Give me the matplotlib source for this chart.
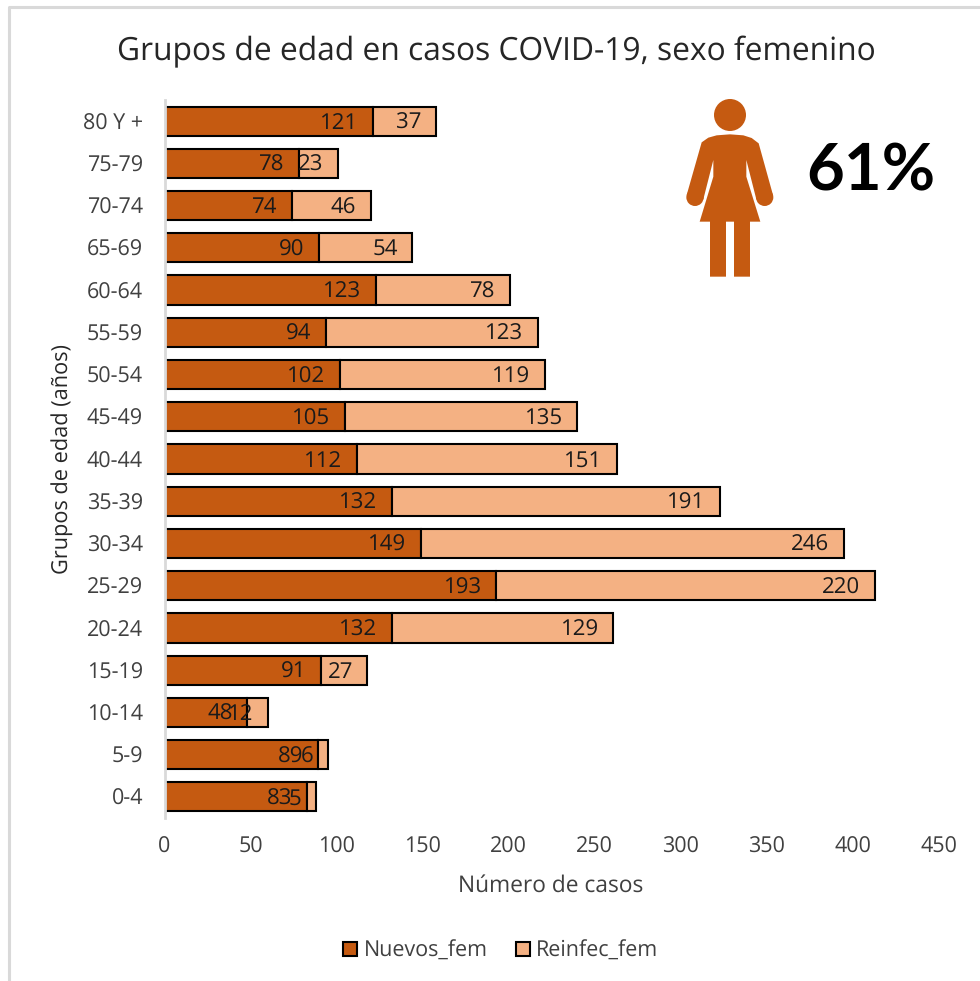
import matplotlib
matplotlib.use("Agg")
import matplotlib.pyplot as plt
from matplotlib.patches import Circle, Polygon

plt.rcParams['font.family'] = ['Open Sans', 'DejaVu Sans']
plt.rcParams['text.hinting'] = 'no_hinting'

groups = ["0-4", "5-9", "10-14", "15-19", "20-24", "25-29", "30-34", "35-39", "40-44",
          "45-49", "50-54", "55-59", "60-64", "65-69", "70-74", "75-79", "80 Y +"]
nuevos = [83, 89, 48, 91, 132, 193, 149, 132, 112, 105, 102, 94, 123, 90, 74, 78, 121]
reinfec = [5, 6, 12, 27, 129, 220, 246, 191, 151, 135, 119, 123, 78, 54, 46, 23, 37]
x_ticks = [0, 50, 100, 150, 200, 250, 300, 350, 400, 450]

DARK = "#C55A11"
LIGHT = "#F4B183"
W, H = 980, 981

fig = plt.figure(figsize=(W / 100, H / 100), dpi=100)
ax = fig.add_axes([164.5 / W, 1 - 818 / H, 774 / W, 718 / H])

ax.barh(groups, nuevos, height=0.69, color=DARK, edgecolor="black", linewidth=1.5, label="Nuevos_fem")
ax.barh(groups, reinfec, left=nuevos, height=0.69, color=LIGHT, edgecolor="black", linewidth=1.5, label="Reinfec_fem")

# labels sit inside the end of each segment, overlapping on the small ones
for i in range(len(groups)):
    ax.annotate(str(nuevos[i]), (nuevos[i], i), xytext=(-10.5, -1.5), textcoords="offset points",
                ha="right", va="center", fontsize=16, color="#1a1a1a")
    ax.annotate(str(reinfec[i]), (nuevos[i] + reinfec[i], i), xytext=(-10.5, -1.5), textcoords="offset points",
                ha="right", va="center", fontsize=16, color="#1a1a1a")

ax.set_xlim(0, 450)
ax.set_ylim(-0.5, len(groups) - 0.5)
ax.set_xticks(x_ticks)
ax.tick_params(axis="both", length=0, labelsize=15.5, labelcolor="#404040")
ax.tick_params(axis="x", pad=13)
ax.tick_params(axis="y", pad=15.5)
for s in ["top", "right", "bottom"]:
    ax.spines[s].set_visible(False)
ax.spines["left"].set_color("#d9d9d9")
ax.spines["left"].set_linewidth(2)

fig.text(551 / W, 1 - 886 / H, "Número de casos", ha="center", va="center", fontsize=16.4, color="#404040")
fig.text(62 / W, 1 - 459 / H, "Grupos de edad (años)", ha="center", va="center", rotation=90,
         fontsize=15.7, color="#262626")
fig.text(496 / W, 1 - 52 / H, "Grupos de edad en casos COVID-19, sexo femenino", ha="center", va="center",
         fontsize=22.9, color="#262626")
fig.text(871 / W, 1 - 172 / H, "61%", ha="center", va="center", fontsize=47, fontweight="bold",
         family="Lato", color="black")

fig.legend(loc="center", bbox_to_anchor=(501 / W, 1 - 951 / H), ncol=2, frameon=False, fontsize=15.5,
           labelcolor="#404040", handlelength=0.65, handleheight=0.65, handletextpad=0.3, columnspacing=1.3)

# overlay in pixel coordinates for the chart frame and the pictogram
over = fig.add_axes([0, 0, 1, 1])
over.set_xlim(0, W)
over.set_ylim(H, 0)
over.axis("off")
over.patch.set_alpha(0)
over.plot([9, 9, 980], [981, 7, 7], color="#d9d9d9", linewidth=2.2)


def px(points):
    return [(660 + a / 3, 80 + b / 3) for a, b in points]


over.add_patch(Circle((730, 115), 16, color=DARK, linewidth=0))
over.add_patch(Circle(px([(105, 352)])[0], 26 / 3, color=DARK, linewidth=0))
over.add_patch(Circle(px([(314, 352)])[0], 26 / 3, color=DARK, linewidth=0))
over.add_patch(Polygon(px([(210, 163), (170, 166), (145, 173), (125, 187), (80, 345), (130, 358), (160, 240),
                           (160, 290), (119, 425), (150, 425), (150, 590), (198, 590), (198, 425), (222, 425),
                           (222, 590), (270, 590), (270, 425), (301, 425), (259, 290), (259, 240), (289, 358),
                           (339, 345), (296, 190), (275, 174), (250, 166)]),
                       closed=True, color=DARK, linewidth=0))

fig.savefig("out.png", dpi=100)
